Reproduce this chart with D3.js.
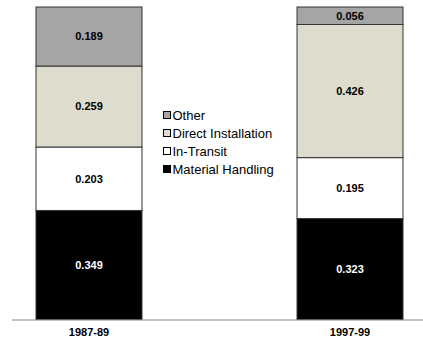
<!DOCTYPE html>
<html>
<head>
<meta charset="utf-8">
<script src="https://cdn.jsdelivr.net/npm/d3@7"></script>
<style>
  body { margin: 0; background: #fff; }
  svg { display: block; font-family: "Liberation Sans", Arial, sans-serif; }
</style>
</head>
<body>
<svg id="chart" width="423" height="344"></svg>
<script>
const periods = ["1987-89", "1997-99"];
const seriesNames = ["Material Handling", "In-Transit", "Direct Installation", "Other"];
const materialHandling = [0.349, 0.323];
const inTransit = [0.203, 0.195];
const directInstallation = [0.259, 0.426];
const other = [0.189, 0.056];

const colors = {
  "Material Handling": "#000000",
  "In-Transit": "#ffffff",
  "Direct Installation": "#dddccd",
  "Other": "#a5a5a5"
};

const svg = d3.select("#chart");

const rows = periods.map((p, i) => ({
  period: p,
  "Material Handling": materialHandling[i],
  "In-Transit": inTransit[i],
  "Direct Installation": directInstallation[i],
  "Other": other[i]
}));

const stacked = d3.stack().keys(seriesNames)(rows);

const x = d3.scaleBand()
  .domain(periods)
  .range([36, 403])
  .paddingInner(0.594)
  .paddingOuter(0);

const y = d3.scaleLinear()
  .domain([0, 1])
  .range([319.5, 7]);

// bars
const layers = svg.append("g").selectAll("g")
  .data(stacked)
  .enter().append("g");

layers.selectAll("rect")
  .data(d => d.map(v => Object.assign({}, v, { key: d.key })))
  .enter().append("rect")
  .attr("x", d => x(d.data.period))
  .attr("y", d => y(d[1]))
  .attr("width", x.bandwidth())
  .attr("height", d => y(d[0]) - y(d[1]))
  .attr("fill", d => colors[d.key])
  .attr("stroke", "#333")
  .attr("stroke-width", 1);

layers.selectAll("text")
  .data(d => d.map(v => Object.assign({}, v, { key: d.key })))
  .enter().append("text")
  .attr("x", d => x(d.data.period) + x.bandwidth() / 2)
  .attr("y", d => (y(d[0]) + y(d[1])) / 2)
  .attr("dy", "0.35em")
  .attr("text-anchor", "middle")
  .attr("font-size", 11)
  .attr("font-weight", "bold")
  .attr("fill", d => d.key === "Material Handling" ? "#fff" : "#000")
  .text(d => (d[1] - d[0]).toFixed(3));

// baseline axis
const axis = svg.append("g")
  .attr("transform", "translate(0," + y(0) + ")")
  .call(d3.axisBottom(x).tickSize(0).tickPadding(9));
axis.select(".domain").attr("d", "M12,0.5H423").attr("stroke", "#888");
axis.selectAll("text")
  .attr("font-family", "Liberation Sans, Arial, sans-serif")
  .attr("font-size", 11)
  .attr("font-weight", "bold")
  .attr("fill", "#000");

// legend
const legendItems = seriesNames.slice().reverse();
const legend = svg.append("g").attr("transform", "translate(163,115)");
const li = legend.selectAll("g")
  .data(legendItems)
  .enter().append("g")
  .attr("transform", (d, i) => "translate(0," + i * 18 + ")");
li.append("rect")
  .attr("x", 0.5)
  .attr("y", -3.5)
  .attr("width", 7)
  .attr("height", 7)
  .attr("fill", d => colors[d])
  .attr("stroke", "#000");
li.append("text")
  .attr("x", 9.5)
  .attr("dy", "0.36em")
  .attr("font-size", 13)
  .attr("fill", "#000")
  .text(d => d);
</script>
</body>
</html>
